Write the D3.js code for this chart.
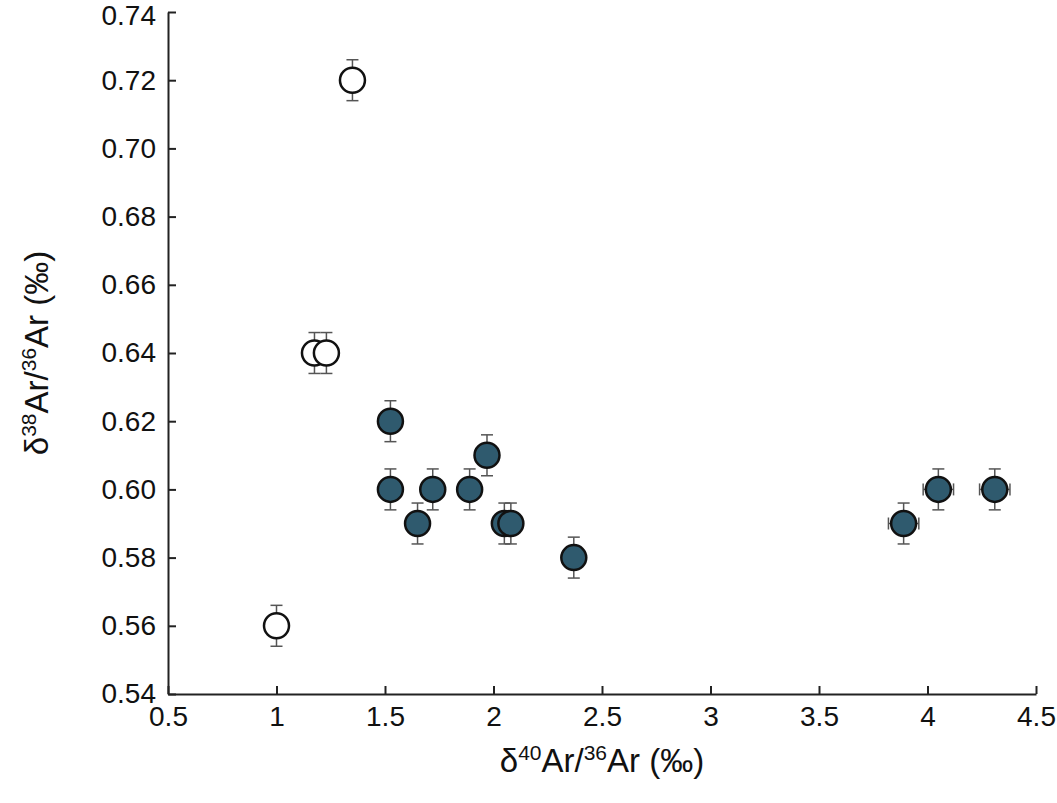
<!DOCTYPE html>
<html><head><meta charset="utf-8">
<script src="https://cdn.jsdelivr.net/npm/d3@7"></script>
<style>body{margin:0;background:#fff}svg{font-family:"Liberation Sans",Arial,sans-serif}</style>
</head><body><svg id="c" width="1057" height="803"></svg>
<script>
const openX = [1.0, 1.175, 1.23, 1.35];
const openY = [0.56, 0.64, 0.64, 0.72];
const fillX = [1.525, 1.525, 1.65, 1.72, 1.89, 1.97, 2.05, 2.08, 2.37, 3.89, 4.05, 4.31];
const fillY = [0.62, 0.60, 0.59, 0.60, 0.60, 0.61, 0.59, 0.59, 0.58, 0.59, 0.60, 0.60];
const fillXErr = [0, 0, 0, 0, 0, 0, 0, 0, 0, 0.07, 0.07, 0.07];
const yErr = 0.006;
const xTicks = [0.5, 1, 1.5, 2, 2.5, 3, 3.5, 4, 4.5];
const yTicks = [0.54, 0.56, 0.58, 0.60, 0.62, 0.64, 0.66, 0.68, 0.70, 0.72, 0.74];

const svg = d3.select('#c');
const x = d3.scaleLinear([0.5, 4.5], [168, 1036]);
const y = d3.scaleLinear([0.54, 0.74], [694, 12]);

const g = svg.append('g');
const xAxis = g.append('g').attr('transform', 'translate(0,694)')
  .call(d3.axisBottom(x).tickValues(xTicks).tickFormat(d3.format('')).tickSizeInner(-8).tickSizeOuter(0).tickPadding(12));
const yAxis = g.append('g').attr('transform', 'translate(168,0)')
  .call(d3.axisLeft(y).tickValues(yTicks).tickFormat(d3.format('.2f')).tickSizeInner(-8).tickSizeOuter(0).tickPadding(12));
[xAxis, yAxis].forEach(a => {
  a.selectAll('text').attr('font-size', 28).attr('fill', '#111');
  a.selectAll('line,path').attr('stroke', '#222').attr('stroke-width', 2);
});
// keep the top label inside the frame
yAxis.selectAll('.tick text').filter(d => d === 0.74).attr('dy', '0.45em');

const xl = svg.append('text').attr('x', 602).attr('y', 772).attr('text-anchor', 'middle').attr('font-size', 33).attr('fill', '#111');
xl.append('tspan').text('δ');
xl.append('tspan').attr('font-size', 21).attr('dy', -12).text('40');
xl.append('tspan').attr('dy', 12).text('Ar/');
xl.append('tspan').attr('font-size', 21).attr('dy', -12).text('36');
xl.append('tspan').attr('dy', 12).text('Ar (‰)');

const yl = svg.append('text').attr('transform', 'translate(48,353) rotate(-90)').attr('text-anchor', 'middle').attr('font-size', 33).attr('fill', '#111');
yl.append('tspan').text('δ');
yl.append('tspan').attr('font-size', 21).attr('dy', -12).text('38');
yl.append('tspan').attr('dy', 12).text('Ar/');
yl.append('tspan').attr('font-size', 21).attr('dy', -12).text('36');
yl.append('tspan').attr('dy', 12).text('Ar (‰)');

function drawPoints(xs, ys, xerr, fill) {
  xs.forEach((xv, i) => {
    const cx = x(xv), cy = y(ys[i]);
    const eg = svg.append('g').attr('stroke', '#555').attr('stroke-width', 1.5);
    eg.append('line').attr('x1', cx).attr('x2', cx).attr('y1', y(ys[i] - yErr)).attr('y2', y(ys[i] + yErr));
    [ys[i] - yErr, ys[i] + yErr].forEach(v => eg.append('line').attr('x1', cx - 6).attr('x2', cx + 6).attr('y1', y(v)).attr('y2', y(v)));
    if (xerr && xerr[i]) {
      const a = x(xv - xerr[i]), b = x(xv + xerr[i]);
      eg.append('line').attr('x1', a).attr('x2', b).attr('y1', cy).attr('y2', cy);
      [a, b].forEach(v => eg.append('line').attr('x1', v).attr('x2', v).attr('y1', cy - 6).attr('y2', cy + 6));
    }
  });
  svg.append('g').selectAll('circle').data(xs).join('circle')
    .attr('cx', d => x(d)).attr('cy', (d, i) => y(ys[i])).attr('r', 12.5)
    .attr('fill', fill).attr('stroke', '#111').attr('stroke-width', 2.5);
}
drawPoints(openX, openY, null, '#fff');
drawPoints(fillX, fillY, fillXErr, '#2f5a6e');
</script></body></html>
